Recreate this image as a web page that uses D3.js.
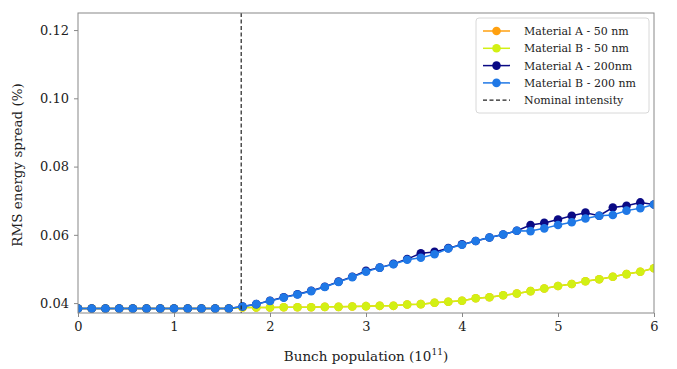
<!DOCTYPE html>
<html>
<head>
<meta charset="utf-8">
<script src="https://cdn.jsdelivr.net/npm/d3@7"></script>
<style>
  body { margin: 0; background: #fff; }
  text { font-family: "DejaVu Serif", "Liberation Serif", serif; }
</style>
</head>
<body>
<div class="vis-chart"></div>
<script>
// bunch population (1e11)
const population = [0, 0.143, 0.286, 0.429, 0.571, 0.714, 0.857, 1.0, 1.143, 1.286, 1.429, 1.571,
  1.714, 1.857, 2.0, 2.143, 2.286, 2.429, 2.571, 2.714, 2.857, 3.0, 3.143, 3.286, 3.429, 3.571,
  3.714, 3.857, 4.0, 4.143, 4.286, 4.429, 4.571, 4.714, 4.857, 5.0, 5.143, 5.286, 5.429, 5.571,
  5.714, 5.857, 6.0];

const matA50 = [0.0384, 0.0384, 0.0384, 0.0384, 0.0384, 0.0384, 0.0384, 0.0384, 0.0384, 0.0384, 0.0384, 0.0384,
  0.0387, 0.0387, 0.0387, 0.0388, 0.0388, 0.0388, 0.0389, 0.0389, 0.0390, 0.0391, 0.0392, 0.0392, 0.0396, 0.0397,
  0.0401, 0.0404, 0.0407, 0.0414, 0.0417, 0.0423, 0.0428, 0.0435, 0.0443, 0.0450, 0.0456, 0.0464, 0.0470, 0.0477,
  0.0485, 0.0492, 0.0502];
const matB50 = [0.0384, 0.0384, 0.0384, 0.0384, 0.0384, 0.0384, 0.0384, 0.0384, 0.0384, 0.0384, 0.0384, 0.0384,
  0.0387, 0.0387, 0.0387, 0.0388, 0.0388, 0.0388, 0.0389, 0.0389, 0.0390, 0.0391, 0.0392, 0.0392, 0.0396, 0.0397,
  0.0401, 0.0404, 0.0407, 0.0414, 0.0417, 0.0423, 0.0428, 0.0435, 0.0443, 0.0450, 0.0456, 0.0464, 0.0470, 0.0477,
  0.0485, 0.0492, 0.0502];
const matA200 = [0.0384, 0.0384, 0.0384, 0.0384, 0.0384, 0.0384, 0.0384, 0.0384, 0.0384, 0.0384, 0.0384, 0.0384,
  0.0390, 0.0397, 0.0407, 0.0417, 0.0426, 0.0436, 0.0448, 0.0463, 0.0477, 0.0495, 0.0504, 0.0515, 0.0529, 0.0546,
  0.0550, 0.0561, 0.0572, 0.0582, 0.0592, 0.0601, 0.0612, 0.0629, 0.0635, 0.0645, 0.0656, 0.0665, 0.0656, 0.0680,
  0.0685, 0.0695, 0.0689];
const matB200 = [0.0384, 0.0384, 0.0384, 0.0384, 0.0384, 0.0384, 0.0384, 0.0384, 0.0384, 0.0384, 0.0384, 0.0384,
  0.0390, 0.0397, 0.0406, 0.0416, 0.0425, 0.0435, 0.0447, 0.0462, 0.0476, 0.0492, 0.0504, 0.0514, 0.0527, 0.0533,
  0.0543, 0.0560, 0.0571, 0.0582, 0.0592, 0.0601, 0.0612, 0.0611, 0.0619, 0.0629, 0.0637, 0.0648, 0.0656, 0.0658,
  0.0671, 0.0678, 0.0689];

const seriesNames = ['Material A - 50 nm', 'Material B - 50 nm', 'Material A - 200nm', 'Material B - 200 nm'];
const seriesColors = ['#ffa010', '#d2f014', '#0a0a85', '#1f78e6'];
const nominalIntensity = 1.7;
const xTicks = [0, 1, 2, 3, 4, 5, 6];
const yTicks = [0.04, 0.06, 0.08, 0.10, 0.12];

const drawChart = () => {
    const W = 677, H = 369;
    const margin = {top: 13, right: 23, bottom: 56, left: 78};
    const width = W - margin.left - margin.right;
    const height = H - margin.top - margin.bottom;

    const svg = d3.select('.vis-chart').append('svg')
        .attr('width', W)
        .attr('height', H)
        .append('g')
        .attr('transform', 'translate(' + margin.left + ',' + margin.top + ')');

    const x = d3.scaleLinear().domain([0, 6]).range([0, width]);
    const y = d3.scaleLinear().domain([0.0371, 0.125]).range([height, 0]);

    svg.append('defs').append('clipPath').attr('id', 'clip')
        .append('rect').attr('width', width).attr('height', height);

    const allSeries = [matA50, matB50, matA200, matB200];
    const line = d3.line()
        .x((d, i) => x(population[i]))
        .y(d => y(d));

    const plot = svg.append('g').attr('clip-path', 'url(#clip)');

    allSeries.forEach((vals, k) => {
        const g = plot.append('g');
        g.append('path')
            .datum(vals)
            .attr('fill', 'none')
            .attr('stroke', seriesColors[k])
            .attr('stroke-width', 1.5)
            .attr('d', line);
        g.selectAll('circle')
            .data(vals)
            .enter().append('circle')
            .attr('cx', (d, i) => x(population[i]))
            .attr('cy', d => y(d))
            .attr('r', 4.3)
            .attr('fill', seriesColors[k]);
    });

    // nominal intensity
    svg.append('line')
        .attr('x1', x(nominalIntensity)).attr('x2', x(nominalIntensity))
        .attr('y1', 0).attr('y2', height)
        .attr('stroke', '#222')
        .attr('stroke-width', 1.2)
        .attr('stroke-dasharray', '4,2.5');

    // frame
    svg.append('rect')
        .attr('width', width).attr('height', height)
        .attr('fill', 'none')
        .attr('stroke', '#888')
        .attr('stroke-width', 1);

    const xAxis = svg.append('g')
        .attr('transform', 'translate(0,' + height + ')')
        .call(d3.axisBottom(x).tickValues(xTicks).tickFormat(d3.format('d')).tickSize(4).tickPadding(5));
    const yAxis = svg.append('g')
        .call(d3.axisLeft(y).tickValues(yTicks).tickFormat(d3.format('.2f')).tickSize(4).tickPadding(5));
    [xAxis, yAxis].forEach(a => {
        a.select('.domain').remove();
        a.selectAll('line').attr('stroke', '#888');
        a.selectAll('text').attr('font-size', 13).attr('fill', '#222')
            .style('font-family', '"DejaVu Serif", serif');
    });

    // axis labels
    const xl = svg.append('text')
        .attr('x', width / 2)
        .attr('y', height + 48)
        .attr('text-anchor', 'middle')
        .attr('font-size', 13.5)
        .attr('fill', '#222');
    xl.append('tspan').text('Bunch population (10');
    xl.append('tspan').attr('font-size', 9).attr('dy', -6).text('11');
    xl.append('tspan').attr('dy', 6).text(')');

    svg.append('text')
        .attr('transform', 'translate(' + (-56) + ',' + (height / 2 + 2) + ') rotate(-90)')
        .attr('text-anchor', 'middle')
        .attr('font-size', 13.5)
        .attr('fill', '#222')
        .text('RMS energy spread (%)');

    // legend
    const lg = svg.append('g').attr('transform', 'translate(' + (width - 178) + ',5)');
    lg.append('rect')
        .attr('width', 173).attr('height', 95)
        .attr('rx', 3)
        .attr('fill', 'rgba(255,255,255,0.8)')
        .attr('stroke', '#d8d8d8');
    const entries = seriesNames.concat(['Nominal intensity']);
    entries.forEach((name, k) => {
        const yy = 13 + k * 17.3;
        const e = lg.append('g').attr('transform', 'translate(0,' + yy + ')');
        if (k < 4) {
            e.append('line').attr('x1', 7).attr('x2', 34).attr('y1', 0).attr('y2', 0)
                .attr('stroke', seriesColors[k]).attr('stroke-width', 1.5);
            e.append('circle').attr('cx', 20.5).attr('cy', 0).attr('r', 4.3).attr('fill', seriesColors[k]);
        } else {
            e.append('line').attr('x1', 7).attr('x2', 34).attr('y1', 0).attr('y2', 0)
                .attr('stroke', '#222').attr('stroke-width', 1.2).attr('stroke-dasharray', '4,2.5');
        }
        e.append('text').attr('x', 48).attr('y', 4)
            .attr('font-size', 11).attr('fill', '#222').text(name);
    });
};

drawChart();
</script>
</body>
</html>
